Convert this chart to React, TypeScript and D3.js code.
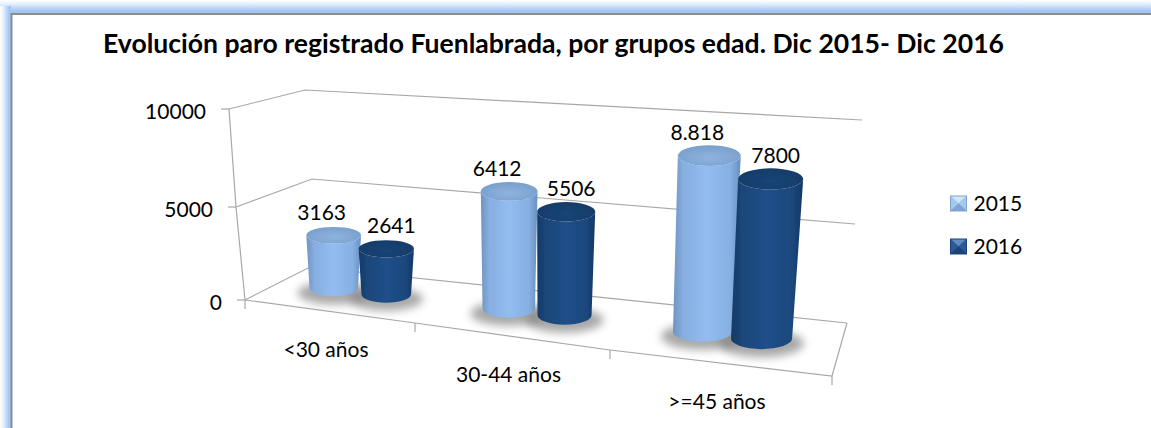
import React from "react";
import * as d3 from "d3";

const categories = ["<30 años", "30-44 años", ">=45 años"];
const seriesNames = ["2015", "2016"];
const values2015 = [3163, 6412, 8818];
const values2016 = [2641, 5506, 7800];
const labels2015 = ["3163", "6412", "8.818"];
const labels2016 = ["2641", "5506", "7800"];
const valueTicks = [0, 5000, 10000];

const W = 1151, H = 428;
const font = "Lato, Carlito, sans-serif";

// projection of the pseudo-3D box, as scales on category position u
const centres = [0.5, 1.5, 2.5];
const barX = d3.scaleLinear().domain(centres).range([360, 535, 732]);
const baseY = d3.scaleLinear().domain(centres).range([291, 311.5, 335]);
const unitHeight = d3.scaleLinear().domain(centres).range([169, 185, 202]);
const rxTop = d3.scaleLinear().domain(centres).range([27.5, 28.5, 32]);
const rxBottom = d3.scaleLinear().domain(centres).range([24.5, 26.5, 30]);
const lean = d3.scaleLinear().domain(centres).range([0, 0.5, 8]);
const ryS = d3.scaleLinear().domain(centres).range([8.5, 9.5, 10.5]);
const offs = [-0.15, 0.15];
const labelDx = [-12, 5];
const colors = [
  { id: "a", side: ["#6e94c2", "#86aee0", "#93bcf0", "#86afe2", "#6a90bf"], top: "#8eb3de", topEdge: "#789fcd" },
  { id: "b", side: ["#143a68", "#1b4678", "#204f8a", "#1b477c", "#133765"], top: "#1a4576", topEdge: "#143b69" },
];

// box edges: value scale along each vertical
const wallFront = d3.scaleLinear().domain(valueTicks).range([300, 207, 109]);
const wallFrontX = d3.scaleLinear().domain(valueTicks).range([245, 236, 229]);
const wallBackL = d3.scaleLinear().domain(valueTicks).range([267, 179, 90]);
const wallBackLX = d3.scaleLinear().domain(valueTicks).range([310, 312, 305]);
const wallBackR = d3.scaleLinear().domain(valueTicks).range([323, 224, 120]);
const wallBackRX = d3.scaleLinear().domain(valueTicks).range([847, 855, 862]);
const frontX = d3.scaleLinear().domain([0, 1, 2, 3]).range([245, 415, 610, 832]);
const frontY = d3.scaleLinear().domain([0, 1, 2, 3]).range([300, 323, 350, 376]);

const line = d3.line<[number, number]>();
const grid = "#a8a8a8";

function Cylinder({ u, v, s }: { u: number; v: number; s: number }) {
  const xb = barX(u), yb = baseY(u);
  const xt = xb + lean(u), yt = yb - (unitHeight(u) * v) / 10000;
  const rt = rxTop(u), rb = rxBottom(u), ry = ryS(u);
  const d = `M${xt - rt},${yt} L${xb - rb},${yb} A${rb},${ry} 0 0 0 ${xb + rb},${yb} L${xt + rt},${yt} A${rt},${ry} 0 0 1 ${xt - rt},${yt} Z`;
  return (
    <g filter="url(#soft)">
      <path d={d} fill={`url(#side-${colors[s].id})`} />
      <ellipse cx={xt} cy={yt} rx={rt} ry={ry} fill={`url(#top-${colors[s].id})`} />
    </g>
  );
}

export default function App() {
  const seriesValues = [values2015, values2016];
  const seriesLabels = [labels2015, labels2016];
  return (
    <svg width={W} height={H} viewBox={`0 0 ${W} ${H}`} style={{ position: "absolute", left: 0, top: 0, display: "block" }}>
      <defs>
        <filter id="blur" x="-40%" y="-80%" width="180%" height="260%"><feGaussianBlur stdDeviation="4" /></filter>
        <filter id="soft" x="-10%" y="-10%" width="120%" height="120%"><feGaussianBlur stdDeviation="0.6" /></filter>
        {colors.map((c) => (
          <React.Fragment key={c.id}>
            <linearGradient id={`side-${c.id}`} x1="0" x2="1" y1="0" y2="0">
              {c.side.map((col, i) => <stop key={i} offset={[0, 0.15, 0.5, 0.85, 1][i]} stopColor={col} />)}
            </linearGradient>
            <radialGradient id={`top-${c.id}`} cx="0.5" cy="0.6" r="0.6">
              <stop offset="0" stopColor={c.top} />
              <stop offset="1" stopColor={c.topEdge} />
            </radialGradient>
          </React.Fragment>
        ))}
        <linearGradient id="frameTop" x1="0" x2="0" y1="0" y2="1"><stop offset="0" stopColor="#ffffff" /><stop offset="0.3" stopColor="#e6f0fb" /><stop offset="0.8" stopColor="#a6c8f2" /><stop offset="1" stopColor="#9fc4f2" /></linearGradient>
        <linearGradient id="frameLeft" x1="0" x2="1" y1="0" y2="0"><stop offset="0" stopColor="#ffffff" /><stop offset="0.3" stopColor="#e6f0fb" /><stop offset="0.8" stopColor="#a6c8f2" /><stop offset="1" stopColor="#9fc4f2" /></linearGradient>
      </defs>

      <rect width={W} height={H} fill="#ffffff" />
      <rect x={0} y={0} width={W} height={13} fill="url(#frameTop)" />
      <rect x={0} y={6} width={11} height={H} fill="url(#frameLeft)" />
      <rect x={11.5} y={14} width={W + 20} height={H + 20} fill="#ffffff" stroke="#8c8c8c" strokeWidth={2} />

      <text x={103} y={53} textLength={901} lengthAdjust="spacingAndGlyphs" fontFamily={font} fontSize={26} fontWeight={700} fill="#000">
        Evolución paro registrado Fuenlabrada, por grupos edad. Dic 2015- Dic 2016
      </text>

      {/* walls and floor */}
      <g fill="none" stroke={grid} strokeWidth={1.2}>
        {valueTicks.map((t) => (
          <g key={t}>
            <path d={line([[wallFrontX(t), wallFront(t)], [wallBackLX(t), wallBackL(t)], [wallBackRX(t), wallBackR(t)]])!} />
            <path d={line([[wallFrontX(t) - 8, wallFront(t)], [wallFrontX(t), wallFront(t)]])!} />
          </g>
        ))}
        <path d={line(valueTicks.map((t) => [wallFrontX(t), wallFront(t)] as [number, number]))!} />
        <path d={line([[frontX(0), frontY(0)], [frontX(1), frontY(1)], [frontX(2), frontY(2)], [frontX(3), frontY(3)], [wallBackRX(0), wallBackR(0)]])!} />
        {d3.range(4).map((i) => (
          <path key={i} d={line([[frontX(i), frontY(i)], [frontX(i), frontY(i) + 9]])!} />
        ))}
      </g>

      {valueTicks.map((t) => (
        <text key={t} x={wallFrontX(t) - 23} y={wallFront(t) + 3} dy="0.35em" textAnchor="end" fontFamily={font} fontSize={21} fill="#000">{t}</text>
      ))}

      {/* shadows */}
      {categories.map((_, i) => offs.map((o) => {
        const u = centres[i] + o;
        return <ellipse key={`${i}${o}`} cx={barX(u)} cy={baseY(u) + 5} rx={rxBottom(u) + 12} ry={ryS(u) + 3} fill="#7a7a7a" opacity={0.65} filter="url(#blur)" />;
      }))}

      {/* bars */}
      {categories.map((_, i) => seriesNames.map((_n, s) => (
        <Cylinder key={`${i}-${s}`} u={centres[i] + offs[s]} v={seriesValues[s][i]} s={s} />
      )))}

      {/* value labels */}
      {categories.map((_, i) => seriesNames.map((_n, s) => {
        const u = centres[i] + offs[s];
        const x = barX(u) + lean(u) + labelDx[s];
        const y = baseY(u) - (unitHeight(u) * seriesValues[s][i]) / 10000 - 23;
        return <text key={`${i}-${s}`} x={x} y={y} dy="0.35em" textAnchor="middle" fontFamily={font} fontSize={21} fill="#000">{seriesLabels[s][i]}</text>;
      }))}

      {/* category labels */}
      {categories.map((c, i) => (
        <text key={c} x={frontX(i + 0.5) - 4} y={frontY(i + 0.5) + 39} dy="0.32em" textAnchor="middle" fontFamily={font} fontSize={21} fill="#000">{c}</text>
      ))}

      {/* legend */}
      {seriesNames.map((n, s) => {
        const light = s === 0 ? "#d2e6fa" : "#5f8cc4";
        const mid = s === 0 ? "#a4c7ee" : "#2a5a98";
        const dark = s === 0 ? "#7fa4d2" : "#1c4478";
        return (
          <g key={n} transform={`translate(950,${195.5 + s * 43})`}>
            <rect width={17} height={16} fill={dark} />
            <path d="M1,1 L16,1 L8.5,8 Z" fill={light} />
            <path d="M1,1 L8.5,8 L1,15 Z" fill={mid} />
            <path d="M16,1 L8.5,8 L16,15 Z" fill={mid} />
            <path d="M1,15 L8.5,8 L16,15 Z" fill={dark} opacity={0.8} />
            <text x={23.5} y={8.5} dy="0.35em" fontFamily={font} fontSize={21} fill="#000">{n}</text>
          </g>
        );
      })}
    </svg>
  );
}
